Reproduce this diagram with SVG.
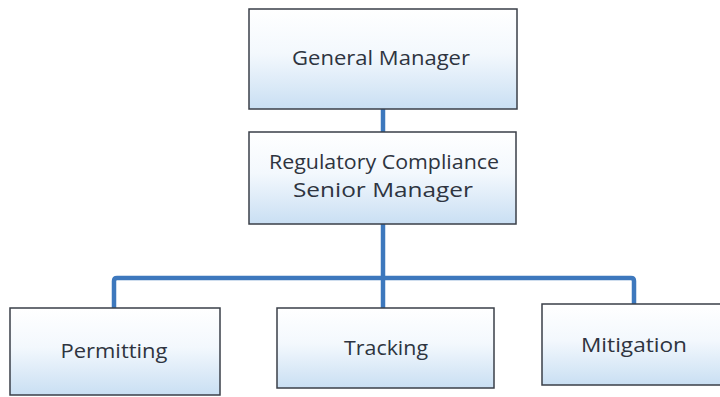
<svg xmlns="http://www.w3.org/2000/svg" width="720" height="397" viewBox="0 0 720 397">
<defs>
<linearGradient id="g" x1="0" y1="0" x2="0" y2="1">
<stop offset="0" stop-color="#ffffff"/>
<stop offset="0.45" stop-color="#f3f8fd"/>
<stop offset="1" stop-color="#c9dff3"/>
</linearGradient>
<style>
.box{fill:url(#g);stroke:#3a3f48;stroke-width:1.5}
.lbl{font-family:"Open Sans","Liberation Sans",sans-serif;font-size:20px;fill:#2e3440;text-anchor:middle}
.conn{fill:none;stroke:#3d78bd;stroke-width:4.5;stroke-linejoin:round}
</style>
</defs>
<rect width="720" height="397" fill="#ffffff"/>
<g id="connectors">
<path class="conn" d="M383,109 V132"/>
<path class="conn" d="M383,224 V308"/>
<path class="conn" d="M114,308 V281 Q114,278 117,278 H631 Q634,278 634,281 V304"/>
</g>
<g id="general-manager">
<rect class="box" x="249" y="9" width="268" height="100"/>
<text class="lbl" x="381" y="65" textLength="178" lengthAdjust="spacingAndGlyphs">General Manager</text>
</g>
<g id="regulatory-compliance-senior-manager">
<rect class="box" x="249" y="132" width="267" height="92"/>
<text class="lbl" x="384" y="169" textLength="230" lengthAdjust="spacingAndGlyphs">Regulatory Compliance</text>
<text class="lbl" x="383" y="197" textLength="180" lengthAdjust="spacingAndGlyphs">Senior Manager</text>
</g>
<g id="permitting">
<rect class="box" x="10" y="308" width="210" height="87"/>
<text class="lbl" x="114" y="358" textLength="107" lengthAdjust="spacingAndGlyphs">Permitting</text>
</g>
<g id="tracking">
<rect class="box" x="277" y="308" width="217" height="80"/>
<text class="lbl" x="386" y="355" textLength="84" lengthAdjust="spacingAndGlyphs">Tracking</text>
</g>
<g id="mitigation">
<rect class="box" x="542" y="304" width="185" height="81"/>
<text class="lbl" x="634" y="352" textLength="106" lengthAdjust="spacingAndGlyphs">Mitigation</text>
</g>
</svg>
